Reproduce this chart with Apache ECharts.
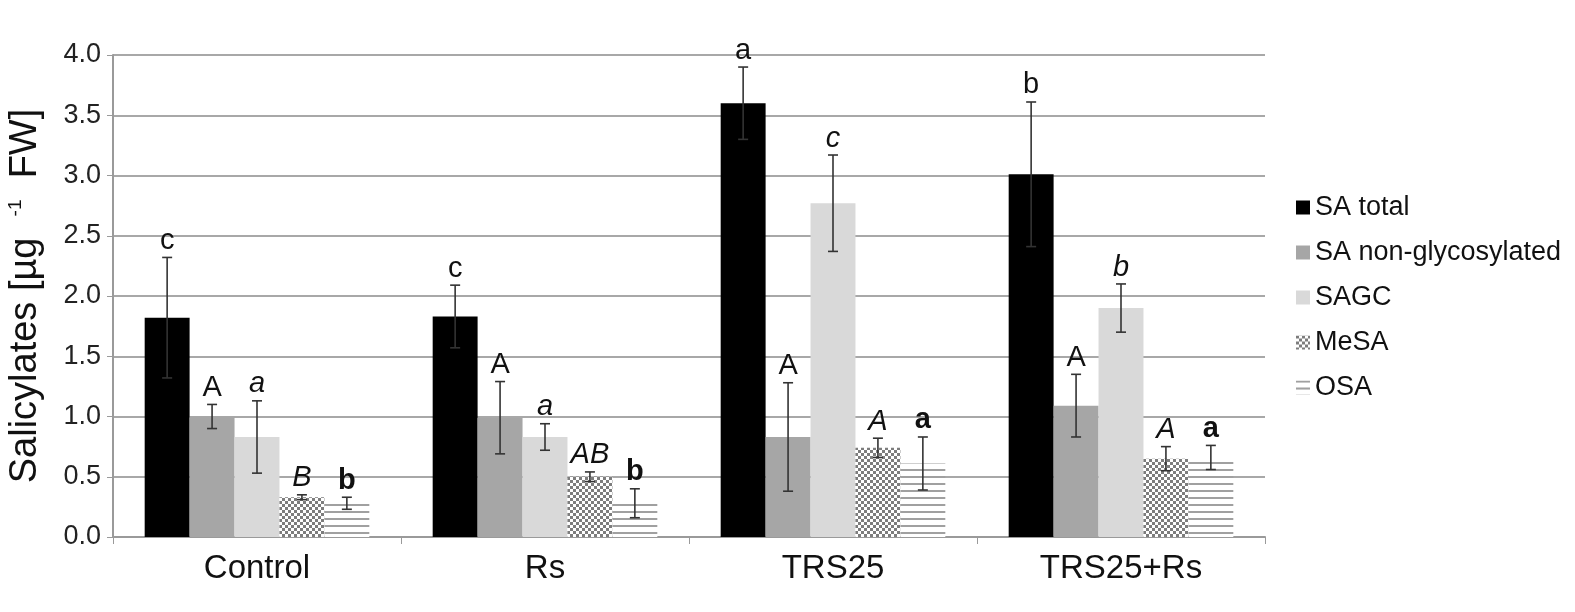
<!DOCTYPE html>
<html>
<head>
<meta charset="utf-8">
<script src="https://cdn.jsdelivr.net/npm/echarts@6/dist/echarts.min.js"></script>
<style>
  html, body { margin: 0; padding: 0; background: #fff; }
  #chart { width: 1575px; height: 612px; }
</style>
</head>
<body>
<div id="chart"></div>
<script>
const categories = ['Control', 'Rs', 'TRS25', 'TRS25+Rs'];
const seriesNames = ['SA total', 'SA non-glycosylated', 'SAGC', 'MeSA', 'OSA'];

const saTotal = [1.82, 1.83, 3.60, 3.01];
const saTotalErr = [0.50, 0.26, 0.30, 0.60];
const saNonGly = [1.00, 0.99, 0.83, 1.09];
const saNonGlyErr = [0.10, 0.30, 0.45, 0.26];
const sagc = [0.83, 0.83, 2.77, 1.90];
const sagcErr = [0.30, 0.11, 0.40, 0.20];
const mesa = [0.33, 0.50, 0.74, 0.65];
const mesaErr = [0.02, 0.04, 0.08, 0.10];
const osa = [0.28, 0.28, 0.61, 0.66];
const osaErr = [0.05, 0.12, 0.22, 0.10];

const saTotalLetters = ['c', 'c', 'a', 'b'];
const saNonGlyLetters = ['A', 'A', 'A', 'A'];
const sagcLetters = ['a', 'a', 'c', 'b'];
const mesaLetters = ['B', 'AB', 'A', 'A'];
const osaLetters = ['b', 'b', 'a', 'a'];

const yTicks = [0, 0.5, 1, 1.5, 2, 2.5, 3, 3.5, 4];

// fill patterns for the last two series
function checkerPattern() {
  let c = document.createElement('canvas');
  c.width = 6; c.height = 6;
  let ctx = c.getContext('2d');
  ctx.fillStyle = '#fff';
  ctx.fillRect(0, 0, 6, 6);
  ctx.fillStyle = '#7d7d7d';
  ctx.fillRect(0, 0, 3, 3);
  ctx.fillRect(3, 3, 3, 3);
  return c;
}
function stripePattern() {
  let c = document.createElement('canvas');
  c.width = 8; c.height = 7;
  let ctx = c.getContext('2d');
  ctx.fillStyle = '#fff';
  ctx.fillRect(0, 0, 8, 7);
  ctx.fillStyle = '#a0a0a0';
  ctx.fillRect(0, 0, 8, 2);
  return c;
}

const fills = [
  '#000000',
  '#a6a6a6',
  '#d9d9d9',
  { image: checkerPattern(), repeat: 'repeat' },
  { image: stripePattern(), repeat: 'repeat' },
];
const values = [saTotal, saNonGly, sagc, mesa, osa];
const errors = [saTotalErr, saNonGlyErr, sagcErr, mesaErr, osaErr];
const letters = [saTotalLetters, saNonGlyLetters, sagcLetters, mesaLetters, osaLetters];
const letterStyle = [
  { fontStyle: 'normal', fontWeight: 'normal' },
  { fontStyle: 'normal', fontWeight: 'normal' },
  { fontStyle: 'italic', fontWeight: 'normal' },
  { fontStyle: 'italic', fontWeight: 'normal' },
  { fontStyle: 'normal', fontWeight: 'bold' },
];

const groupShare = 0.78;

function errorSeries(idx) {
  return {
    type: 'custom',
    name: seriesNames[idx] + ' err',
    z: 10,
    data: values[idx].map((v, i) => [i, v, errors[idx][i]]),
    renderItem(params, api) {
      let cat = api.value(0);
      let v = api.value(1);
      let e = api.value(2);
      let catW = api.size([1, 0])[0];
      let bw = catW * groupShare / 5;
      let base = api.coord([cat, v]);
      let x = base[0] + (idx - 2) * bw;
      let top = api.coord([cat, v + e])[1];
      let bot = api.coord([cat, v - e])[1];
      let cap = 5;
      let style = { stroke: '#333', lineWidth: 1.6 };
      return {
        type: 'group',
        children: [
          { type: 'line', shape: { x1: x, y1: top, x2: x, y2: bot }, style },
          { type: 'line', shape: { x1: x - cap, y1: top, x2: x + cap, y2: top }, style },
          { type: 'line', shape: { x1: x - cap, y1: bot, x2: x + cap, y2: bot }, style },
          {
            type: 'text',
            style: {
              text: letters[idx][params.dataIndex],
              x: x,
              y: top - 2,
              align: 'center',
              verticalAlign: 'bottom',
              fontSize: 29,
              fontFamily: 'Liberation Sans',
              fontStyle: letterStyle[idx].fontStyle,
              fontWeight: letterStyle[idx].fontWeight,
              fill: '#111',
            },
          },
        ],
      };
    },
  };
}

const series = [];
values.forEach((vals, idx) => {
  series.push({
    type: 'bar',
    name: seriesNames[idx],
    data: vals,
    barGap: '0%',
    barCategoryGap: ((1 - groupShare) * 100) + '%',
    itemStyle: { color: fills[idx] },
  });
});
values.forEach((vals, idx) => series.push(errorSeries(idx)));

const chart = echarts.init(document.getElementById('chart'));
chart.setOption({
  animation: false,
  textStyle: { fontFamily: 'Liberation Sans' },
  grid: { left: 113, right: 310, top: 55, bottom: 75, containLabel: false, outerBoundsMode: 'none' },
  legend: {
    data: seriesNames,
    orient: 'vertical',
    left: 1291,
    top: 189,
    itemWidth: 14,
    itemHeight: 14,
    itemGap: 18,
    icon: 'rect',
    textStyle: { fontSize: 27, color: '#111', fontFamily: 'Liberation Sans' },
  },
  xAxis: {
    type: 'category',
    data: categories,
    axisLine: { lineStyle: { color: '#9a9a9a', width: 2 } },
    axisTick: { show: true, length: 7, lineStyle: { color: '#9a9a9a' } },
    axisLabel: { fontSize: 33, color: '#111', margin: 15 },
  },
  yAxis: {
    type: 'value',
    min: yTicks[0],
    max: yTicks[yTicks.length - 1],
    interval: 0.5,
    name: 'Salicylates [µg  {sup|-1}  FW]',
    nameLocation: 'middle',
    nameGap: 68,
    nameTextStyle: {
      fontSize: 38,
      color: '#111',
      rich: {
        sup: { fontSize: 19, padding: [0, 0, 20, 0], color: '#111' },
      },
    },
    axisLine: { show: true, lineStyle: { color: '#9a9a9a', width: 2 } },
    axisTick: { show: true, length: 6, lineStyle: { color: '#9a9a9a' } },
    axisLabel: {
      fontSize: 27,
      color: '#222',
      margin: 12,
      formatter: v => v.toFixed(1),
    },
    splitLine: { lineStyle: { color: '#a8a8a8', width: 2 } },
  },
  series: series,
});
</script>
</body>
</html>
